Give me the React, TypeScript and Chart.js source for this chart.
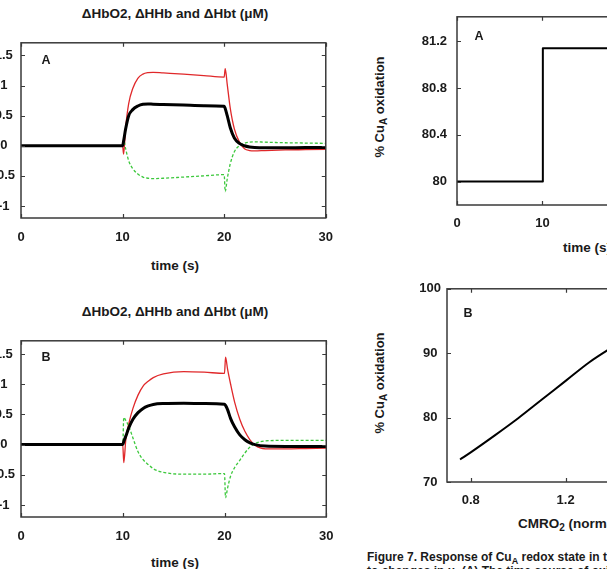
import React, { useEffect, useRef } from 'react';
import { Chart, registerables } from 'chart.js';

Chart.register(...registerables);

const FONT = '"Liberation Sans", Arial, Helvetica, sans-serif';
const INK = '#1a1a1a';

// Simulated haemoglobin changes (µM) over time (s)
const hbTime = [0, 10, 10.1, 10.3, 10.6, 11, 11.5, 12, 12.5, 13, 14, 16, 18, 20, 20.1, 20.3, 20.6, 21, 21.5, 22, 22.5, 23, 24, 26, 28, 30];

// Simulation A
const hbtA = [0, 0, 0.08, 0.28, 0.5, 0.6, 0.66, 0.69, 0.695, 0.69, 0.685, 0.675, 0.665, 0.655, 0.62, 0.5, 0.3, 0.13, 0.04, 0.0, -0.02, -0.03, -0.035, -0.035, -0.03, -0.03];
const hbo2A = [0, 0, -0.14, 0.3, 0.7, 0.95, 1.12, 1.19, 1.215, 1.22, 1.21, 1.19, 1.165, 1.14, 1.28, 1.02, 0.62, 0.28, 0.06, -0.05, -0.08, -0.085, -0.08, -0.07, -0.065, -0.06];
const hhbA = [0, 0, 0.1, -0.05, -0.25, -0.38, -0.47, -0.52, -0.54, -0.545, -0.54, -0.52, -0.5, -0.48, -0.76, -0.55, -0.3, -0.1, 0.0, 0.04, 0.06, 0.065, 0.06, 0.05, 0.045, 0.04];

// Simulation B
const hbtB = [0, 0, 0.05, 0.14, 0.28, 0.42, 0.53, 0.6, 0.64, 0.665, 0.68, 0.685, 0.68, 0.67, 0.65, 0.58, 0.43, 0.29, 0.16, 0.08, 0.03, 0.0, -0.025, -0.03, -0.03, -0.03];
const hbo2B = [0, 0, -0.3, 0.08, 0.35, 0.6, 0.82, 0.97, 1.05, 1.11, 1.17, 1.21, 1.2, 1.18, 1.45, 1.25, 1.0, 0.7, 0.42, 0.22, 0.08, -0.01, -0.07, -0.07, -0.065, -0.06];
const hhbB = [0, 0, 0.45, 0.4, 0.3, 0.11, -0.12, -0.25, -0.33, -0.4, -0.46, -0.49, -0.49, -0.48, -0.88, -0.72, -0.52, -0.38, -0.26, -0.14, -0.04, 0.02, 0.06, 0.07, 0.07, 0.07];

// CuA oxidation (%) over time (s)
const cuaTime = [0, 10, 10.05, 20, 20.05, 30];
const cuaOx = [80, 80, 81.14, 81.14, 80, 80];

// Steady-state CuA oxidation (%) against normalised CMRO2
const cmro2 = [0.755, 0.8, 0.9, 1.0, 1.1, 1.2, 1.3, 1.4, 1.5, 1.6, 1.7, 1.8];
const cuaSteady = [73.5, 74.6, 77.2, 79.9, 82.8, 85.7, 88.6, 91.0, 93.2, 95.1, 96.7, 98.0];

// Tick values
const timeTicks = [0, 10, 20, 30];
const hbTicks = [-1, -0.5, 0, 0.5, 1, 1.5];
const cuaTicks = [80, 80.4, 80.8, 81.2];
const cmroTicks = [0.8, 1.2, 1.6];
const steadyTicks = [70, 80, 90, 100];

const RED = '#e0282a';
const GREEN = '#3cc83c';
const BLACK = '#000000';

type Series = { x: number[]; y: number[]; color: string; width: number; dash?: number[]; smooth: boolean };
type Panel = {
  area: [number, number, number, number]; // left, top, right, bottom of plot area on the page
  x: [number, number];
  y: [number, number];
  xTicks: number[];
  yTicks: number[];
  xPad: number;
  yPad: number;
  yAlign: 'near' | 'center';
  series: Series[];
};

const AXIS_W = 46;
const AXIS_H = 34;
const PAD_TOP = 10;
const PAD_RIGHT = 16;

const hbSeries = (hbt: number[], hhb: number[], hbo2: number[]): Series[] => [
  { x: hbTime, y: hbt, color: BLACK, width: 3, smooth: true },
  { x: hbTime, y: hhb, color: GREEN, width: 1.3, dash: [3, 2], smooth: true },
  { x: hbTime, y: hbo2, color: RED, width: 1.3, smooth: true },
];

const PANELS: Panel[] = [
  {
    area: [21, 39, 329, 218], x: [0, 30], y: [-1.2, 1.71], xTicks: timeTicks, yTicks: hbTicks,
    xPad: 12, yPad: 6, yAlign: 'center', series: hbSeries(hbtA, hhbA, hbo2A),
  },
  {
    area: [21, 337, 329, 517], x: [0, 30], y: [-1.2, 1.72], xTicks: timeTicks, yTicks: hbTicks,
    xPad: 11.5, yPad: 6, yAlign: 'center', series: hbSeries(hbtB, hhbB, hbo2B),
  },
  {
    area: [457, 9, 715, 205], x: [0, 30], y: [79.8, 81.41], xTicks: timeTicks, yTicks: cuaTicks,
    xPad: 10.5, yPad: 10, yAlign: 'near',
    series: [{ x: cuaTime, y: cuaOx, color: BLACK, width: 2, smooth: false }],
  },
  {
    area: [447, 285, 708, 482], x: [0.7, 1.8], y: [70, 100], xTicks: cmroTicks, yTicks: steadyTicks,
    xPad: 10.5, yPad: 6, yAlign: 'center',
    series: [{ x: cmro2, y: cuaSteady, color: BLACK, width: 2, smooth: true }],
  },
];

// Box frame with short inward tick marks on all four sides
const framePlugin = {
  id: 'frame',
  afterDatasetsDraw(chart: any) {
    const { ctx, chartArea: a, scales } = chart;
    ctx.save();
    ctx.strokeStyle = '#3a3a3a';
    ctx.lineWidth = 1.5;
    ctx.strokeRect(a.left, a.top, a.right - a.left, a.bottom - a.top);
    ctx.lineWidth = 1.2;
    ctx.beginPath();
    for (const t of scales.x.ticks) {
      const px = Math.round(scales.x.getPixelForValue(t.value)) + 0.5;
      ctx.moveTo(px, a.bottom);
      ctx.lineTo(px, a.bottom - 4);
      ctx.moveTo(px, a.top);
      ctx.lineTo(px, a.top + 4);
    }
    for (const t of scales.y.ticks) {
      const py = Math.round(scales.y.getPixelForValue(t.value)) + 0.5;
      ctx.moveTo(a.left, py);
      ctx.lineTo(a.left + 4, py);
      ctx.moveTo(a.right, py);
      ctx.lineTo(a.right - 4, py);
    }
    ctx.stroke();
    ctx.restore();
  },
};

function PlotPanel({ spec }: { spec: Panel }) {
  const ref = useRef<HTMLCanvasElement>(null);
  const [L, T, R, B] = spec.area;
  const left = L - AXIS_W;
  const top = T - PAD_TOP;
  const width = AXIS_W + (R - L) + PAD_RIGHT;
  const height = PAD_TOP + (B - T) + AXIS_H;

  useEffect(() => {
    const tickFont = { family: FONT, size: 13, weight: 'bold' as const };
    const chart = new Chart(ref.current!, {
      type: 'line',
      data: {
        datasets: spec.series.map((s) => ({
          data: s.x.map((x, i) => ({ x, y: s.y[i] })),
          borderColor: s.color,
          borderWidth: s.width,
          borderDash: s.dash ?? [],
          cubicInterpolationMode: s.smooth ? ('monotone' as const) : ('default' as const),
          tension: 0,
          pointRadius: 0,
          fill: false,
        })),
      },
      options: {
        responsive: false,
        animation: false,
        events: [],
        layout: { padding: { top: PAD_TOP, right: PAD_RIGHT, left: 0, bottom: 0 } },
        plugins: { legend: { display: false }, tooltip: { enabled: false }, title: { display: false } },
        elements: { line: { borderCapStyle: 'butt', borderJoinStyle: 'round' } },
        scales: {
          x: {
            type: 'linear',
            min: spec.x[0],
            max: spec.x[1],
            grid: { display: false, drawTicks: false },
            border: { display: false },
            afterBuildTicks: (s: any) => { s.ticks = spec.xTicks.map((v) => ({ value: v })); },
            afterFit: (s: any) => { s.height = AXIS_H; },
            ticks: {
              padding: spec.xPad, maxRotation: 0, autoSkip: false, color: INK, font: tickFont,
              callback: (v: any) => String(v),
            },
          },
          y: {
            type: 'linear',
            min: spec.y[0],
            max: spec.y[1],
            grid: { display: false, drawTicks: false },
            border: { display: false },
            afterBuildTicks: (s: any) => { s.ticks = spec.yTicks.map((v) => ({ value: v })); },
            afterFit: (s: any) => { s.width = AXIS_W; },
            ticks: {
              padding: spec.yPad, crossAlign: spec.yAlign, autoSkip: false, color: INK, font: tickFont,
              callback: (v: any) => String(v),
            },
          },
        },
      },
      plugins: [framePlugin],
    });
    return () => chart.destroy();
  }, [spec]);

  return (
    <canvas
      ref={ref}
      width={width}
      height={height}
      style={{ position: 'absolute', left, top, width, height }}
    />
  );
}

function Text({ x, y, children, rotate = false, anchor = 'center', size = 13.5 }: { x: number; y: number; children: React.ReactNode; rotate?: boolean; anchor?: 'center' | 'start'; size?: number }) {
  const tx = anchor === 'center' ? '-50%' : '0';
  return (
    <div
      style={{
        position: 'absolute',
        left: x,
        top: y,
        fontSize: size,
        lineHeight: 1,
        whiteSpace: 'nowrap',
        transform: `translate(${tx}, -50%)${rotate ? ' rotate(-90deg)' : ''}`,
        transformOrigin: rotate ? 'center' : undefined,
      }}
    >
      {children}
    </div>
  );
}

const Sub = ({ children, size = 10 }: { children: React.ReactNode; size?: number }) => (
  <span style={{ fontSize: size, position: 'relative', top: 3 }}>{children}</span>
);

export default function App() {
  return (
    <div
      style={{
        position: 'fixed', left: 0, top: 0, width: 607, height: 569, overflow: 'hidden',
        background: '#fff', fontFamily: FONT, fontWeight: 'bold', fontSize: 12, color: INK,
      }}
    >
      {PANELS.map((p, i) => <PlotPanel key={i} spec={p} />)}

      <Text x={175} y={14}>ΔHbO2, ΔHHb and ΔHbt (μM)</Text>
      <Text x={46} y={60} size={12.5}>A</Text>
      <Text x={175} y={266}>time (s)</Text>

      <Text x={175} y={312}>ΔHbO2, ΔHHb and ΔHbt (μM)</Text>
      <Text x={46} y={357} size={12.5}>B</Text>
      <Text x={175} y={563}>time (s)</Text>

      <Text x={479} y={36} size={12.5}>A</Text>
      <Text x={563} y={248} anchor="start">time (s)</Text>
      <Text x={379} y={107} rotate size={13}>% Cu<Sub>A</Sub> oxidation</Text>

      <Text x={468} y={313} size={12.5}>B</Text>
      <Text x={379} y={383} rotate size={13}>% Cu<Sub>A</Sub> oxidation</Text>
      <Text x={518} y={524} anchor="start">CMRO<Sub>2</Sub> (normalised)</Text>

      <Text x={367} y={557} anchor="start" size={12}>Figure 7. Response of Cu<Sub size={9}>A</Sub> redox state in the model</Text>
      <Text x={367} y={571} anchor="start" size={12}>to changes in u. (A) The time course of oxidation</Text>
    </div>
  );
}
